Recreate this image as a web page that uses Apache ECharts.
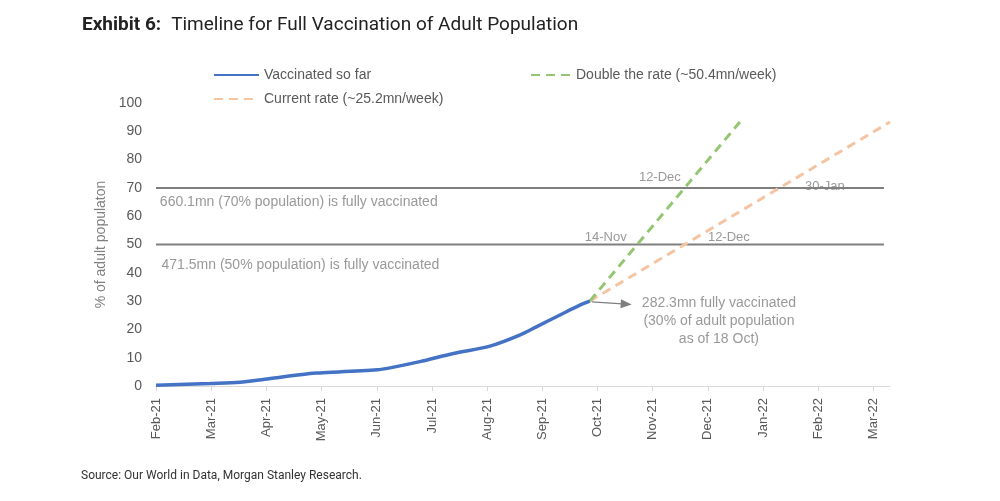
<!DOCTYPE html>
<html><head><meta charset="utf-8">
<script src="https://cdn.jsdelivr.net/npm/echarts@6/dist/echarts.min.js"></script>
<style>html,body{margin:0;padding:0;background:#fff}#c{width:1000px;height:501px}</style>
</head><body><div id="c"></div>
<script>
// month-index axis: 0 = Feb-21
const monthLabels = ['Feb-21','Mar-21','Apr-21','May-21','Jun-21','Jul-21','Aug-21','Sep-21','Oct-21','Nov-21','Dec-21','Jan-22','Feb-22','Mar-22'];
const yTicks = [0,10,20,30,40,50,60,70,80,90,100];
const vaccinatedX = [0, 0.98, 1.52, 1.97, 2.79, 2.97, 4.01, 4.24, 4.78, 5.39, 6.05, 6.59, 6.9, 7.32, 7.68, 7.86];
const vaccinatedY = [0.3, 0.9, 1.3, 2.4, 4.4, 4.6, 5.7, 6.4, 8.6, 11.5, 14.1, 18.0, 21.0, 25.1, 28.6, 30.0];
const doubleX = [7.86, 10.58];
const doubleY = [30.0, 93.3];
const currentX = [7.86, 13.3];
const currentY = [30.0, 93.3];
const thresholdX = [0, 13.19];
const threshold70 = [70, 70];
const threshold50 = [50, 50];
const crossLabels = [
  {x: 9.13, y: 73.6, text: '12-Dec'},
  {x: 12.12, y: 70.4, text: '30-Jan'},
  {x: 8.15, y: 52.4, text: '14-Nov'},
  {x: 10.38, y: 52.4, text: '12-Dec'}
];
const thresholdLabels = [
  {x: 0.07, y: 65.0, text: '660.1mn (70% population) is fully vaccinated'},
  {x: 0.1, y: 42.8, text: '471.5mn (50% population) is fully vaccinated'}
];
const noteLabel = {x: 10.2, y: 23.0, text: '282.3mn fully vaccinated\n(30% of adult population\nas of 18 Oct)'};
const arrowFrom = [7.9, 29.7];
const arrowTo = [8.52, 28.9];

const zip = (a, b) => a.map((v, i) => [v, b[i]]);
const FONT = '"Liberation Sans", Arial, sans-serif';
const GRAY = '#808080';
const legendText = {fontFamily: FONT, fontSize: 14, color: '#595959'};

const chart = echarts.init(document.getElementById('c'), null, {renderer: 'canvas'});
chart.setOption({
  animation: false,
  backgroundColor: '#fff',
  title: [{
    left: 77, top: 11,
    text: '{b|Exhibit 6:}  {n|Timeline for Full Vaccination of Adult Population}',
    textStyle: {fontWeight: 'normal', rich: {
      b: {fontFamily: 'Roboto', fontWeight: 'bold', fontSize: 19, color: '#222'},
      n: {fontFamily: 'Roboto', fontWeight: 'normal', fontSize: 19, color: '#222'}
    }}
  }, {
    left: 76, top: 465,
    text: 'Source: Our World in Data, Morgan Stanley Research.',
    textStyle: {fontFamily: 'Roboto', fontSize: 12, fontWeight: 'normal', color: '#333'}
  }],
  legend: [{
    left: 208, top: 63, itemWidth: 45, itemHeight: 14,
    itemStyle: {opacity: 0},
    data: ['Vaccinated so far'], textStyle: legendText
  }, {
    left: 525, top: 63, itemWidth: 40, itemHeight: 14,
    itemStyle: {opacity: 0},
    data: ['Double the rate (~50.4mn/week)'], textStyle: legendText
  }, {
    left: 208, top: 87, itemWidth: 45, itemHeight: 14,
    itemStyle: {opacity: 0},
    data: ['Current rate (~25.2mn/week)'], textStyle: legendText
  }],
  grid: {left: 156, right: 110, top: 103, bottom: 115, containLabel: false},
  xAxis: {
    type: 'value', min: 0, max: 13.3, interval: 1,
    splitLine: {show: false},
    axisLine: {show: true, lineStyle: {color: '#d9d9d9', width: 1}},
    axisTick: {show: true, length: 5, lineStyle: {color: '#d9d9d9'}},
    axisLabel: {
      rotate: 90, margin: 12, showMaxLabel: false,
      fontFamily: FONT, fontSize: 13, color: '#595959',
      formatter: v => (Number.isInteger(v) && monthLabels[v]) ? monthLabels[v] : ''
    }
  },
  yAxis: {
    type: 'value', min: 0, max: 100, interval: 10,
    name: '% of adult populaton', nameLocation: 'middle', nameGap: 45,
    nameTextStyle: {fontFamily: FONT, fontSize: 14, color: '#7f7f7f'},
    splitLine: {show: false},
    axisLine: {show: false}, axisTick: {show: false},
    axisLabel: {margin: 14, fontFamily: FONT, fontSize: 14, color: '#595959',
      formatter: v => yTicks.includes(v) ? String(v) : ''}
  },
  series: [
    {
      name: '70line', type: 'line', data: zip(thresholdX, threshold70), symbol: 'none', silent: true,
      lineStyle: {color: '#7f7f7f', width: 2}, z: 1
    },
    {
      name: '50line', type: 'line', data: zip(thresholdX, threshold50), symbol: 'none', silent: true,
      lineStyle: {color: '#7f7f7f', width: 2}, z: 1
    },
    {
      name: 'Current rate (~25.2mn/week)', type: 'line', data: zip(currentX, currentY), symbol: 'none',
      itemStyle: {color: '#f5c4a3'},
      lineStyle: {color: '#f5c4a3', width: 3, type: [9, 6]}, z: 3
    },
    {
      name: 'Double the rate (~50.4mn/week)', type: 'line', data: zip(doubleX, doubleY), symbol: 'none',
      itemStyle: {color: '#93c572'},
      lineStyle: {color: '#93c572', width: 3, type: [9, 6]}, z: 3
    },
    {
      name: 'Vaccinated so far', type: 'line', data: zip(vaccinatedX, vaccinatedY), symbol: 'none', smooth: 0.3,
      itemStyle: {color: '#4472c4'},
      lineStyle: {color: '#4472c4', width: 3.5}, z: 4,
      markLine: {
        silent: true, symbol: ['none', 'triangle'], symbolSize: [9, 11],
        lineStyle: {color: '#7f7f7f', width: 1.2, type: 'solid'},
        label: {show: false},
        data: [[{coord: arrowFrom}, {coord: arrowTo}]]
      }
    },
    {
      name: 'crossLabels', type: 'scatter', symbolSize: 0, silent: true,
      data: crossLabels.map(d => ({value: [d.x, d.y], name: d.text})),
      label: {show: true, position: 'inside', formatter: p => p.name,
        fontFamily: FONT, fontSize: 13, color: GRAY}, z: 5
    },
    {
      name: 'thresholdLabels', type: 'scatter', symbolSize: 0, silent: true,
      data: thresholdLabels.map(d => ({value: [d.x, d.y], name: d.text})),
      label: {show: true, position: 'right', distance: 0, formatter: p => p.name,
        fontFamily: FONT, fontSize: 14, color: GRAY}, z: 5
    },
    {
      name: 'note', type: 'scatter', symbolSize: 0, silent: true,
      data: [{value: [noteLabel.x, noteLabel.y], name: noteLabel.text}],
      label: {show: true, position: 'inside', formatter: p => p.name, align: 'center',
        lineHeight: 18, fontFamily: FONT, fontSize: 14, color: GRAY}, z: 5
    }
  ]
});
</script></body></html>
